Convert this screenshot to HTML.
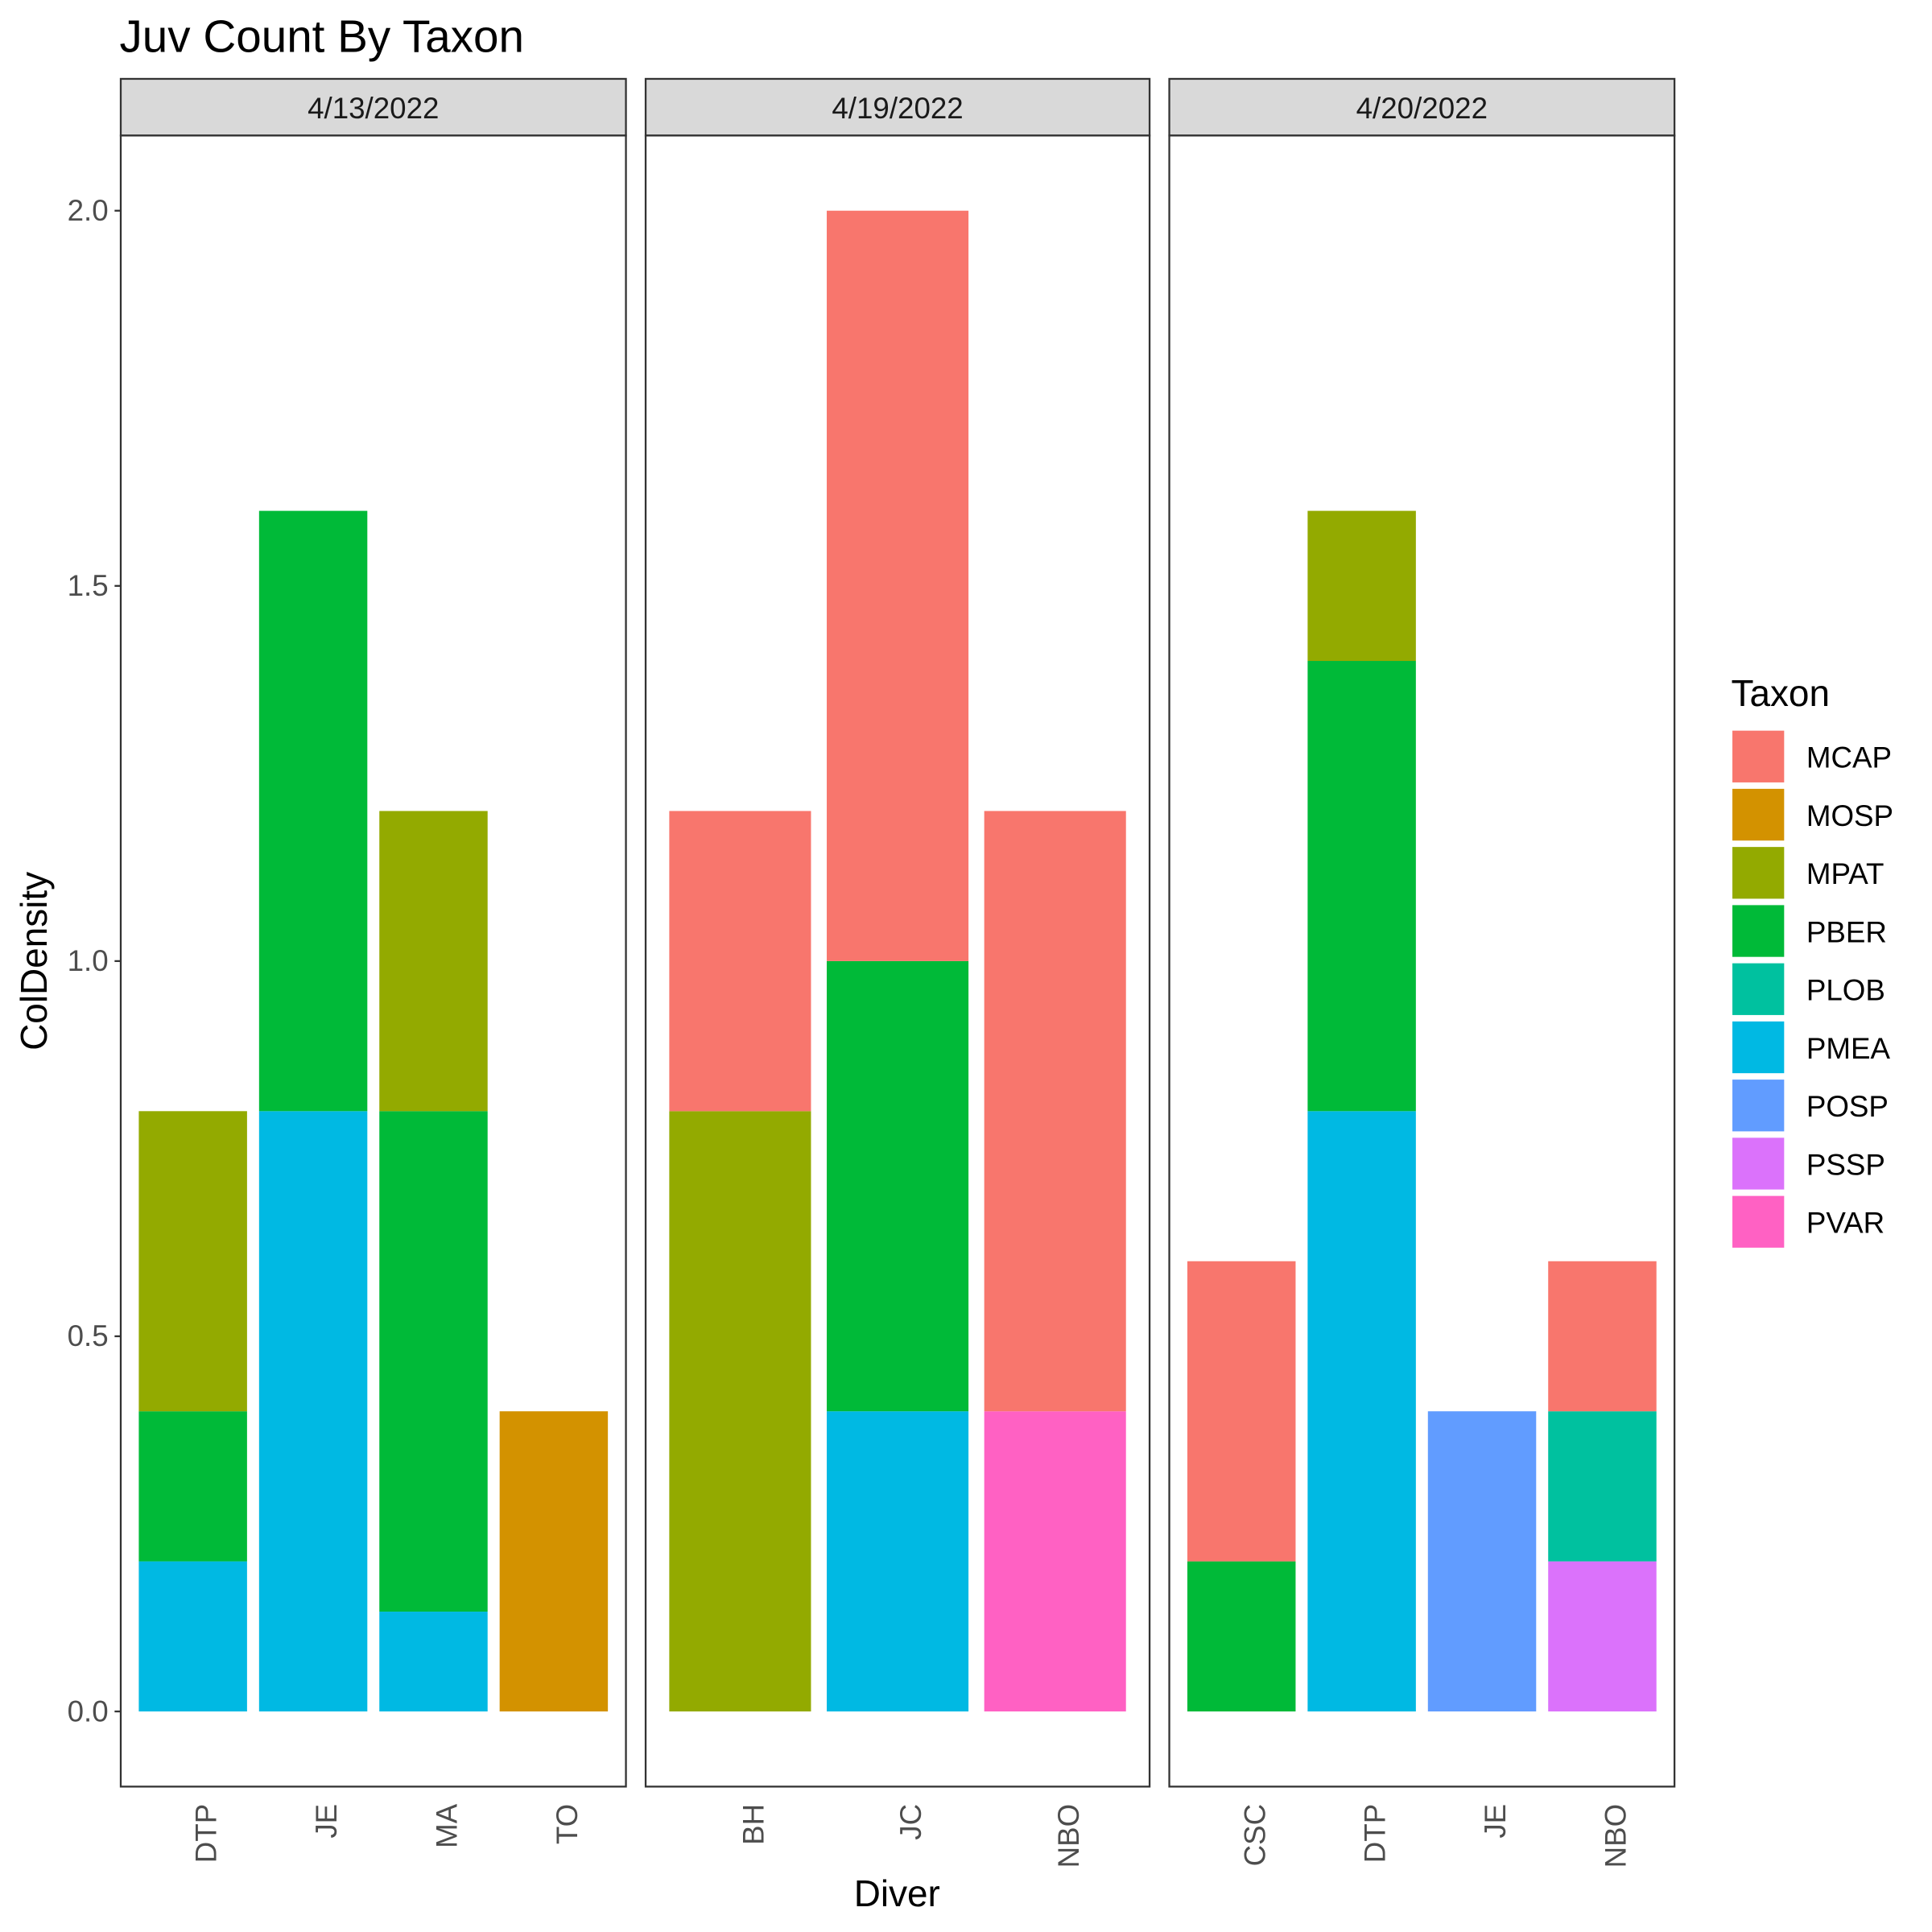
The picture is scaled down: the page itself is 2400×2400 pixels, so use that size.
<!DOCTYPE html>
<html><head><meta charset="utf-8"><style>
html,body{margin:0;padding:0;background:#fff;}
svg{display:block;font-family:"Liberation Sans",Arial,sans-serif;}
</style></head>
<body>
<svg id="chart" width="2400" height="2400" viewBox="0 0 1568 1568" xmlns="http://www.w3.org/2000/svg">
<rect x="0" y="0" width="1568" height="1568" fill="#fff"/>
<text x="97" y="42" font-size="37" fill="#000">Juv Count By Taxon</text>
<text transform="translate(38,780) rotate(-90)" text-anchor="middle" font-size="30" fill="#000">ColDensity</text>
<text x="728" y="1547" text-anchor="middle" font-size="30" fill="#000">Diver</text>
<g id="panels"></g>
<g id="legend"></g>
</svg>
<script>
const taxa = ["MCAP","MOSP","MPAT","PBER","PLOB","PMEA","POSP","PSSP","PVAR"];
const colors = ["#F8766D","#D39200","#93AA00","#00BA38","#00C19F","#00B9E3","#619CFF","#DB72FB","#FF61C3"];
const dates = ["4/13/2022","4/19/2022","4/20/2022"];
const divers1 = ["DTP","JE","MA","TO"];
const divers2 = ["BH","JC","NBO"];
const divers3 = ["CSC","DTP","JE","NBO"];
// per diver: values for each taxon (same order as taxa)
const values1 = [
  [0,0,0.4,0.2,0,0.2,0,0,0],
  [0,0,0,0.8,0,0.8,0,0,0],
  [0,0,0.4,0.667,0,0.133,0,0,0],
  [0,0.4,0,0,0,0,0,0,0]
];
const values2 = [
  [0.4,0,0.8,0,0,0,0,0,0],
  [1.0,0,0,0.6,0,0.4,0,0,0],
  [0.8,0,0,0,0,0,0,0,0.4]
];
const values3 = [
  [0.4,0,0,0.2,0,0,0,0,0],
  [0,0,0.2,0.6,0,0.8,0,0,0],
  [0,0,0,0,0,0,0.4,0,0],
  [0.2,0,0,0,0.2,0,0,0.2,0]
];
const yTicks = [0,0.5,1.0,1.5,2.0];
const yTickLabels = ["0.0","0.5","1.0","1.5","2.0"];

const NS="http://www.w3.org/2000/svg";
const svg=document.getElementById('chart');
const panelsG=document.getElementById('panels');
const legendG=document.getElementById('legend');
const PT=110, PB=1450, Y0=1389, Y2=171;
function y(v){return Y0-(Y0-Y2)*v/2;}
const panelX=[[98,508],[524,933],[949,1359]];
function mk(tag,attrs,parent){const e=document.createElementNS(NS,tag);for(const k in attrs)e.setAttribute(k,attrs[k]);parent.appendChild(e);return e;}

const allDivers=[divers1,divers2,divers3];
const allValues=[values1,values2,values3];
for(let p=0;p<3;p++){
  const [x0,x1]=panelX[p];
  const g=mk('g',{},panelsG);
  
  
  const strip=mk('rect',{x:x0,y:64,width:x1-x0,height:46,fill:'#D9D9D9',stroke:'#333','stroke-width':1.5},g);
  
  
  const st=mk('text',{x:(x0+x1)/2,y:96,'text-anchor':'middle','font-size':24,fill:'#1a1a1a'},g);
  st.textContent=dates[p];
  
  
  const ds=allDivers[p], vs=allValues[p];
  const n=ds.length, unit=(x1-x0)/(n-1+1.2), bw=unit*0.9;
  for(let i=0;i<n;i++){
    const cx=x0+unit*(0.6+i);
    let cum=0;
    for(let t=taxa.length-1;t>=0;t--){
      const v=vs[i][t]; if(!v) continue;
      const r=mk('rect',{x:cx-bw/2,y:y(cum+v),width:bw,height:y(cum)-y(cum+v),fill:colors[t]},g);
      
      
      cum+=v;
    }
    const tl=mk('text',{transform:`translate(${cx+19},${PB+14}) rotate(-90)`,'text-anchor':'end','font-size':24,fill:'#4d4d4d'},g);
    tl.textContent=ds[i];
    
    
  }
  const border=mk('rect',{x:x0,y:PT,width:x1-x0,height:PB-PT,fill:'none',stroke:'#333','stroke-width':1.5},g);
  
  
}
for(let i=0;i<yTicks.length;i++){
  const yy=y(yTicks[i]);
  mk('line',{x1:93,x2:98,y1:yy,y2:yy,stroke:'#333','stroke-width':1.5},panelsG);
  const t=mk('text',{x:88,y:yy+8,'text-anchor':'end','font-size':24,fill:'#4d4d4d'},panelsG);
  t.textContent=yTickLabels[i];
  
  
}
const lt=mk('text',{x:1405,y:573,'font-size':30,fill:'#000'},legendG);
lt.textContent='Taxon';


for(let t=0;t<taxa.length;t++){
  const yy=593+t*47.2;
  const k=mk('rect',{x:1406,y:yy,width:42,height:42,fill:colors[t]},legendG);
  
  
  const l=mk('text',{x:1466,y:yy+30,'font-size':24,fill:'#000'},legendG);
  l.textContent=taxa[t];
  
  
}
</script>
</body></html>
